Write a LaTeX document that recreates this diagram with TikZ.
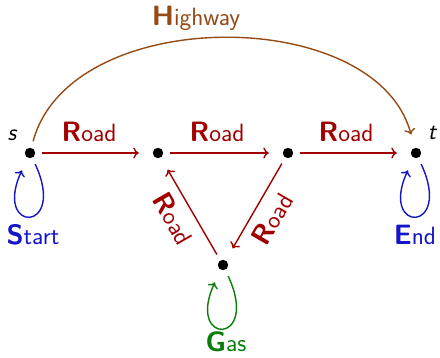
\documentclass[tikz,border=0pt]{standalone}
\usepackage{fontspec}
\usetikzlibrary{arrows.meta}
\definecolor{roadc}{RGB}{160,0,0}
\definecolor{hwyc}{RGB}{150,75,20}
\definecolor{bluec}{RGB}{20,20,200}
\definecolor{greenc}{RGB}{10,125,10}
\newcommand\mylab[2]{{\sffamily\fontsize{28}{30}\selectfont\bfseries #1}{\sffamily\fontsize{25}{30}\selectfont #2}}
\begin{document}
\begin{tikzpicture}[x=1pt,y=1pt,
  dot/.style={circle,minimum size=24pt,inner sep=0pt,
    path picture={\fill (path picture bounding box.center) circle (5.2pt);}},
  edge/.style={-{To[length=5.5pt,width=11pt]},line width=1.4pt,shorten >=7pt},
  road/.style={edge,draw=roadc},
  hwy/.style={edge,draw=hwyc},
  selfloop/.style={edge,looseness=1,min distance=77pt},
  lbl/.style={inner sep=0pt},
  math/.style={inner sep=0pt,font=\sffamily\fontsize{24}{28}\selectfont\itshape},
]
\useasboundingbox (0,0) rectangle (440,357);
\node[dot] (s) at (30,204) {};
\node[dot] (n2) at (158,204) {};
\node[dot] (n3) at (288,204) {};
\node[dot] (t) at (416,204) {};
\node[dot] (g) at (223,92) {};
\node[math] (sl) at (12,222) {s};
\node[math] (tl) at (432,224) {t};
\draw[hwy] (s) to[out=75,in=105,looseness=0.96] (t);
\node[lbl,text=hwyc] (hl) at (196,339) {\mylab{H}{ighway}};
\draw[road] (s) -- node[lbl,above=11pt,xshift=-5pt,text=roadc] (r1) {\mylab{R}{oad}} (n2);
\draw[road] (n2) -- node[lbl,above=11pt,xshift=-6pt,text=roadc] (r2) {\mylab{R}{oad}} (n3);
\draw[road] (n3) -- node[lbl,above=11pt,xshift=-6pt,text=roadc] (r3) {\mylab{R}{oad}} (t);
\draw[road] (n3) -- node[lbl,sloped,below=9pt,text=roadc] (r4) {\mylab{R}{oad}} (g);
\draw[road] (g) -- node[lbl,sloped,below=9pt,text=roadc] (r5) {\mylab{R}{oad}} (n2);
\draw[selfloop,draw=bluec] (s) to[out=-65,in=-115] (s);
\draw[selfloop,draw=bluec] (t) to[out=-65,in=-115] (t);
\draw[selfloop,draw=greenc] (g) to[out=-65,in=-115] (g);
\node[lbl,text=bluec] (stl) at (33,122) {\mylab{S}{tart}};
\node[lbl,text=bluec] (enl) at (415,122) {\mylab{E}{nd}};
\node[lbl,text=greenc] (gal) at (226,15) {\mylab{G}{as}};
\end{tikzpicture}
\end{document}
